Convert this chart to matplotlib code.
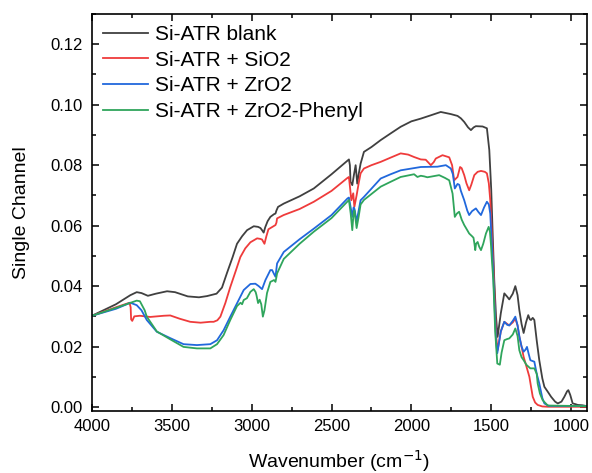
import matplotlib
matplotlib.use('Agg')
import matplotlib.pyplot as plt
from matplotlib.ticker import MultipleLocator, FormatStrFormatter

plt.rcParams['font.family'] = ['Liberation Sans', 'DejaVu Sans']

# wavenumbers (cm-1) and single channel values
wn_blank = [4000, 3850, 3760, 3720, 3690, 3650, 3600, 3530, 3480, 3400, 3330, 3280, 3220, 3186,
            3155, 3120, 3092, 3060, 3029, 2987, 2960, 2945, 2935, 2925, 2915, 2900, 2883, 2860,
            2851, 2845, 2835, 2799, 2700, 2611, 2500, 2400, 2391, 2385, 2381, 2370, 2360, 2349,
            2339, 2330, 2318, 2297, 2250, 2192, 2130, 2067, 2000, 1941, 1878, 1816, 1780, 1753,
            1711, 1690, 1669, 1645, 1627, 1610, 1596, 1554, 1527, 1512, 1500, 1491, 1481, 1470,
            1460, 1440, 1418, 1400, 1387, 1365, 1349, 1335, 1324, 1310, 1297, 1282, 1268, 1258,
            1251, 1240, 1230, 1215, 1199, 1180, 1167, 1145, 1125, 1100, 1083, 1060, 1042, 1025,
            1017, 1005, 990, 975, 958, 930, 900]
blank = [0.0302, 0.0340, 0.0370, 0.0380, 0.0377, 0.0368, 0.0375, 0.0383, 0.0380, 0.0366, 0.0363,
         0.0367, 0.0375, 0.0395, 0.0443, 0.0495, 0.0540, 0.0565, 0.0585, 0.0598, 0.0596, 0.0592,
         0.0585, 0.0577, 0.0595, 0.0615, 0.0629, 0.0638, 0.0640, 0.0650, 0.0662, 0.0673, 0.0697,
         0.0723, 0.0770, 0.0815, 0.0819, 0.0800, 0.0745, 0.0734, 0.0767, 0.0800, 0.0739, 0.0770,
         0.0805, 0.0844, 0.0860, 0.0883, 0.0905, 0.0927, 0.0945, 0.0954, 0.0965, 0.0976, 0.0972,
         0.0969, 0.0963, 0.0955, 0.0943, 0.0925, 0.0916, 0.0925, 0.0929, 0.0928, 0.0922, 0.0850,
         0.0720, 0.0575, 0.0420, 0.0300, 0.0232, 0.0310, 0.0376, 0.0365, 0.0356, 0.0375, 0.0400,
         0.0370, 0.0321, 0.0275, 0.0245, 0.0280, 0.0304, 0.0290, 0.0288, 0.0295, 0.0288, 0.0220,
         0.0155, 0.0095, 0.0067, 0.0050, 0.0034, 0.0018, 0.0012, 0.0018, 0.0034, 0.0052, 0.0056,
         0.0040, 0.0012, 0.0010, 0.0007, 0.0006, 0.0003]

wn_sio2 = [4000, 3850, 3765, 3758, 3755, 3748, 3735, 3700, 3636, 3550, 3510, 3450, 3385, 3320,
           3259, 3238, 3215, 3196, 3165, 3134, 3100, 3071, 3040, 3008, 2966, 2945, 2935, 2920,
           2908, 2895, 2870, 2851, 2845, 2841, 2800, 2700, 2611, 2500, 2400, 2391, 2383, 2376,
           2364, 2357, 2343, 2330, 2318, 2297, 2250, 2192, 2130, 2067, 2020, 1983, 1941, 1910,
           1878, 1860, 1847, 1805, 1763, 1745, 1732, 1711, 1695, 1685, 1669, 1655, 1638, 1625,
           1606, 1585, 1564, 1540, 1527, 1515, 1506, 1491, 1480, 1470, 1460, 1440, 1418, 1400,
           1387, 1365, 1349, 1335, 1324, 1310, 1297, 1282, 1261, 1250, 1240, 1225, 1209, 1180,
           1146, 900]
sio2 = [0.0302, 0.0330, 0.0345, 0.0330, 0.0290, 0.0285, 0.0300, 0.0302, 0.0298, 0.0302, 0.0303,
        0.0292, 0.0282, 0.0279, 0.0282, 0.0282, 0.0287, 0.0299, 0.0344, 0.0397, 0.0450, 0.0496,
        0.0525, 0.0545, 0.0558, 0.0556, 0.0554, 0.0540, 0.0565, 0.0588, 0.0596, 0.0602, 0.0610,
        0.0624, 0.0635, 0.0655, 0.0679, 0.0715, 0.0758, 0.0761, 0.0720, 0.0684, 0.0707, 0.0662,
        0.0700, 0.0740, 0.0773, 0.0789, 0.0800, 0.0811, 0.0825, 0.0839, 0.0835, 0.0827, 0.0819,
        0.0818, 0.0800, 0.0810, 0.0822, 0.0833, 0.0826, 0.0800, 0.0750, 0.0761, 0.0794, 0.0790,
        0.0767, 0.0740, 0.0717, 0.0735, 0.0767, 0.0778, 0.0781, 0.0778, 0.0773, 0.0740, 0.0684,
        0.0519, 0.0380, 0.0240, 0.0188, 0.0250, 0.0282, 0.0275, 0.0270, 0.0280, 0.0293, 0.0270,
        0.0232, 0.0200, 0.0166, 0.0139, 0.0100, 0.0065, 0.0034, 0.0015, 0.0007, 0.0002, 0.0001,
        0.0001]

wn_zro2 = [4000, 3850, 3760, 3720, 3690, 3657, 3594, 3510, 3427, 3343, 3259, 3217, 3176, 3134,
           3092, 3050, 3008, 2977, 2956, 2935, 2914, 2883, 2872, 2860, 2851, 2841, 2799, 2700,
           2611, 2500, 2400, 2391, 2380, 2370, 2362, 2356, 2343, 2330, 2318, 2297, 2192, 2130,
           2067, 1941, 1837, 1784, 1753, 1740, 1728, 1711, 1700, 1690, 1669, 1650, 1638, 1620,
           1596, 1580, 1564, 1545, 1527, 1515, 1506, 1491, 1480, 1470, 1462, 1440, 1418, 1400,
           1387, 1365, 1349, 1335, 1324, 1310, 1297, 1285, 1276, 1265, 1255, 1240, 1230, 1215,
           1199, 1180, 1167, 1140, 900]
zro2 = [0.0302, 0.0325, 0.0345, 0.0337, 0.0320, 0.0288, 0.0249, 0.0228, 0.0208, 0.0205, 0.0208,
        0.0221, 0.0254, 0.0299, 0.0343, 0.0387, 0.0407, 0.0408, 0.0400, 0.0390, 0.0420, 0.0453,
        0.0453, 0.0440, 0.0431, 0.0475, 0.0513, 0.0555, 0.0590, 0.0635, 0.0690, 0.0693, 0.0660,
        0.0629, 0.0660, 0.0655, 0.0613, 0.0650, 0.0684, 0.0695, 0.0756, 0.0770, 0.0783, 0.0794,
        0.0795, 0.0800, 0.0789, 0.0770, 0.0723, 0.0738, 0.0735, 0.0715, 0.0684, 0.0650, 0.0635,
        0.0648, 0.0657, 0.0645, 0.0635, 0.0660, 0.0679, 0.0670, 0.0640, 0.0486, 0.0350, 0.0220,
        0.0178, 0.0250, 0.0282, 0.0272, 0.0270, 0.0285, 0.0299, 0.0270, 0.0235, 0.0200, 0.0183,
        0.0190, 0.0199, 0.0175, 0.0155, 0.0152, 0.0150, 0.0110, 0.0078, 0.0030, 0.0012, 0.0004,
        0.0003]

wn_phenyl = [4000, 3850, 3720, 3700, 3670, 3657, 3594, 3510, 3427, 3343, 3259, 3217, 3176, 3134,
             3092, 3070, 3060, 3050, 3030, 3008, 2987, 2975, 2970, 2960, 2950, 2940, 2930, 2920,
             2904, 2883, 2860, 2851, 2845, 2841, 2799, 2700, 2611, 2500, 2400, 2391, 2380, 2370,
             2362, 2356, 2343, 2330, 2318, 2297, 2192, 2130, 2067, 1983, 1962, 1941, 1920, 1900,
             1878, 1826, 1790, 1763, 1742, 1728, 1715, 1701, 1685, 1669, 1650, 1638, 1620, 1611,
             1605, 1600, 1595, 1585, 1575, 1564, 1550, 1533, 1516, 1508, 1502, 1495, 1487, 1475,
             1462, 1446, 1435, 1418, 1400, 1387, 1365, 1349, 1335, 1324, 1310, 1297, 1280, 1255,
             1230, 1215, 1209, 1195, 1178, 1146, 900]
phenyl = [0.0302, 0.0328, 0.0352, 0.0350, 0.0320, 0.0299, 0.0250, 0.0224, 0.0199, 0.0194, 0.0194,
          0.0208, 0.0238, 0.0288, 0.0334, 0.0345, 0.0340, 0.0354, 0.0360, 0.0381, 0.0390, 0.0380,
          0.0370, 0.0344, 0.0355, 0.0340, 0.0299, 0.0320, 0.0377, 0.0414, 0.0420, 0.0414, 0.0430,
          0.0442, 0.0490, 0.0540, 0.0580, 0.0625, 0.0680, 0.0685, 0.0640, 0.0585, 0.0640, 0.0650,
          0.0592, 0.0630, 0.0670, 0.0685, 0.0729, 0.0745, 0.0761, 0.0770, 0.0761, 0.0765, 0.0763,
          0.0760, 0.0762, 0.0767, 0.0758, 0.0750, 0.0706, 0.0629, 0.0640, 0.0646, 0.0620, 0.0602,
          0.0585, 0.0574, 0.0565, 0.0560, 0.0540, 0.0519, 0.0540, 0.0546, 0.0530, 0.0519, 0.0540,
          0.0574, 0.0596, 0.0580, 0.0540, 0.0480, 0.0420, 0.0250, 0.0144, 0.0140, 0.0180, 0.0221,
          0.0225, 0.0227, 0.0240, 0.0260, 0.0235, 0.0188, 0.0165, 0.0155, 0.0140, 0.0128, 0.0128,
          0.0110, 0.0078, 0.0045, 0.0023, 0.0005, 0.0003]

series = [
    (wn_blank, blank, 'Si-ATR blank', '#404040'),
    (wn_sio2, sio2, 'Si-ATR + SiO2', '#ef3b3b'),
    (wn_zro2, zro2, 'Si-ATR + ZrO2', '#2168dc'),
    (wn_phenyl, phenyl, 'Si-ATR + ZrO2-Phenyl', '#2fa55c'),
]

fig = plt.figure(figsize=(5.92, 4.73), dpi=100)
ax = fig.add_axes([0.1554, 0.1311, 0.8362, 0.8393])

for wn, vals, label, color in series:
    ax.plot(wn, vals, color=color, lw=1.3, label=label)

ax.set_xlim(4000, 900)
ax.set_ylim(-0.0013, 0.130)
ax.xaxis.set_major_locator(MultipleLocator(500))
ax.xaxis.set_minor_locator(MultipleLocator(250))
ax.yaxis.set_major_locator(MultipleLocator(0.02))
ax.yaxis.set_minor_locator(MultipleLocator(0.01))
ax.yaxis.set_major_formatter(FormatStrFormatter('%.2f'))
ax.tick_params(which='both', direction='in', top=True, right=True, labelsize=12, width=1.1)
ax.tick_params(which='major', length=5)
ax.tick_params(which='minor', length=3)
ax.tick_params(axis='y', pad=7)
ax.tick_params(axis='x', pad=6)
for s in ax.spines.values():
    s.set_linewidth(1.2)

ax.set_xlabel('Wavenumber (cm$^{-1}$)', fontsize=14, labelpad=10)
ax.set_ylabel('Single Channel', fontsize=14, labelpad=14)

ax.legend(loc='upper left', frameon=False, fontsize=15, handlelength=2.16,
          handletextpad=0.34, labelspacing=0.32, borderpad=0, borderaxespad=0,
          bbox_to_anchor=(0.022, 0.972))

plt.savefig('out.png', dpi=100)
plt.close()
